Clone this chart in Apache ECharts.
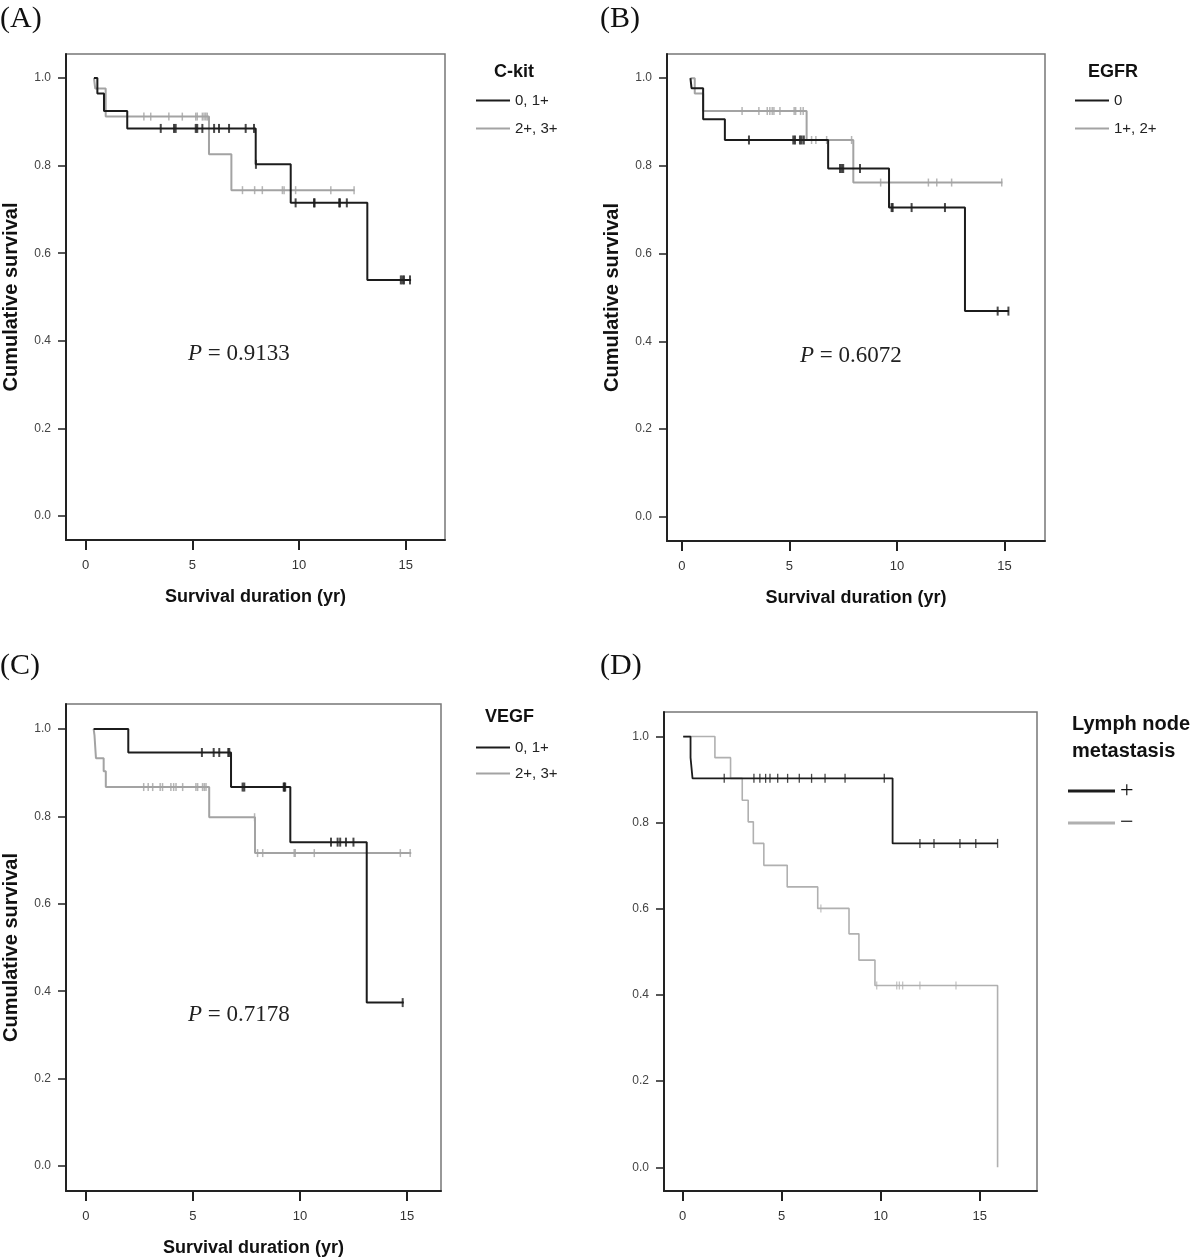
<!DOCTYPE html>
<html>
<head>
<meta charset="utf-8">
<script src="https://cdn.jsdelivr.net/npm/echarts@6/dist/echarts.min.js"></script>
<style>
html,body{margin:0;padding:0;background:#fff;}
#chart{width:1200px;height:1258px;}
</style>
</head>
<body>
<div id="chart"></div>
<script>
// ---------- DATA ----------
var xTicks = [0, 5, 10, 15];
var yTicks = [0, 0.2, 0.4, 0.6, 0.8, 1.0];

// (A) C-kit
var aBlackT = [0.39, 0.55, 0.86, 1.95, 7.97, 9.61, 13.2, 15.25];
var aBlackS = [1.0, 0.965, 0.925, 0.885, 0.803, 0.715, 0.539, 0.539];
var aBlackCens = [3.52, 4.14, 4.22, 5.16, 5.23, 5.47, 6.02, 6.25, 6.72, 7.5, 7.89, 7.98, 9.84, 10.7, 10.73, 11.88, 11.92, 12.24, 14.77, 14.85, 14.92, 15.2];
var aGrayT = [0.39, 0.45, 0.94, 5.78, 6.83, 12.6];
var aGrayS = [1.0, 0.976, 0.912, 0.826, 0.744, 0.744];
var aGrayCens = [2.73, 3.05, 3.9, 4.53, 5.16, 5.23, 5.47, 5.55, 5.63, 5.7, 7.35, 7.92, 8.28, 9.22, 9.3, 9.84, 11.49, 12.58];

// (B) EGFR
var bBlackT = [0.4, 0.45, 0.99, 2.0, 6.8, 9.63, 13.16, 15.2];
var bBlackS = [1.0, 0.977, 0.906, 0.859, 0.794, 0.705, 0.469, 0.469];
var bBlackCens = [3.12, 5.18, 5.26, 5.49, 5.57, 5.67, 7.35, 7.43, 7.5, 8.28, 9.75, 9.8, 10.68, 12.23, 14.68, 15.18];
var bGrayT = [0.4, 0.6, 0.99, 5.8, 7.97, 14.9];
var bGrayS = [1.0, 0.965, 0.925, 0.859, 0.762, 0.762];
var bGrayCens = [2.8, 3.58, 3.97, 4.09, 4.2, 4.28, 4.56, 5.22, 5.29, 5.52, 5.64, 6.03, 6.23, 6.73, 7.89, 9.24, 11.46, 11.85, 12.54, 14.87];

// (C) VEGF
var cBlackT = [0.36, 1.98, 6.78, 9.55, 13.12, 14.85];
var cBlackS = [1.0, 0.946, 0.867, 0.741, 0.374, 0.374];
var cBlackCens = [5.42, 5.97, 6.23, 6.65, 6.7, 7.32, 7.4, 9.24, 9.27, 9.31, 11.45, 11.76, 11.88, 12.15, 12.5, 14.8];
var cGrayT = [0.36, 0.4, 0.47, 0.83, 0.93, 5.76, 7.9, 15.2];
var cGrayS = [1.0, 0.986, 0.933, 0.903, 0.867, 0.798, 0.716, 0.716];
var cGrayCens = [2.7, 2.91, 3.12, 3.47, 3.58, 3.97, 4.1, 4.21, 4.52, 5.14, 5.22, 5.45, 5.53, 5.61, 7.88, 8.02, 8.26, 9.73, 9.78, 10.67, 14.69, 15.15];

// (D) Lymph node metastasis
var dPlusT = [0.03, 0.4, 0.5, 10.6, 15.9];
var dPlusS = [1.0, 0.951, 0.903, 0.752, 0.752];
var dPlusCens = [2.1, 3.6, 3.9, 4.19, 4.41, 4.8, 5.3, 5.89, 6.51, 7.19, 8.2, 10.18, 11.98, 12.69, 14.0, 14.8, 15.9];
var dMinusT = [0.03, 1.63, 2.42, 3.01, 3.31, 3.57, 4.1, 5.28, 6.82, 8.4, 8.9, 9.71, 15.9];
var dMinusS = [1.0, 0.951, 0.903, 0.852, 0.802, 0.752, 0.701, 0.651, 0.601, 0.542, 0.481, 0.422, 0.0];
var dMinusCens = [6.98, 9.8, 10.81, 10.94, 11.11, 11.98, 13.8];

var pValues = ['0.9133', '0.6072', '0.7178'];

// ---------- BUILD ----------
function pts(T, S) { return T.map(function (t, i) { return [t, S[i]]; }); }
function levelAt(T, S, t) { var s = S[0]; for (var i = 0; i < T.length; i++) { if (T[i] <= t) s = S[i]; } return s; }
function cens(T, S, C) { return C.map(function (t) { return [t, levelAt(T, S, t)]; }); }

var BLACK = '#1c1c1c', GRAY = '#a3a3a3', GRAY_D = '#b0b0b0';
var sansB = "'Liberation Sans', Arial, sans-serif";

var panels = [
  { grid: { left: 66, top: 54, width: 379, height: 486 }, x: [-0.92, 16.84], y: [-0.055, 1.055], names: true,
    curves: [
      { name: 'A|2+, 3+', T: aGrayT, S: aGrayS, C: aGrayCens, color: GRAY, w: 2, tick: [1.5, 8] },
      { name: 'A|0, 1+', T: aBlackT, S: aBlackS, C: aBlackCens, color: BLACK, w: 2, tick: [2, 9] }
    ] },
  { grid: { left: 667, top: 54, width: 378, height: 487 }, x: [-0.69, 16.88], y: [-0.055, 1.055], names: true,
    curves: [
      { name: 'B|1+, 2+', T: bGrayT, S: bGrayS, C: bGrayCens, color: GRAY, w: 2, tick: [1.5, 8] },
      { name: 'B|0', T: bBlackT, S: bBlackS, C: bBlackCens, color: BLACK, w: 2, tick: [2, 9] }
    ] },
  { grid: { left: 66, top: 704, width: 375, height: 488 }, x: [-0.93, 16.59], y: [-0.057, 1.057], names: true,
    curves: [
      { name: 'C|2+, 3+', T: cGrayT, S: cGrayS, C: cGrayCens, color: GRAY, w: 2, tick: [1.5, 8] },
      { name: 'C|0, 1+', T: cBlackT, S: cBlackS, C: cBlackCens, color: BLACK, w: 2, tick: [2, 9] }
    ] },
  { grid: { left: 664, top: 712, width: 373, height: 479 }, x: [-0.94, 17.89], y: [-0.055, 1.057], names: false,
    curves: [
      { name: 'D|\u2212', T: dMinusT, S: dMinusS, C: dMinusCens, color: GRAY_D, w: 1.6, tick: [1.2, 8] },
      { name: 'D|+', T: dPlusT, S: dPlusS, C: dPlusCens, color: BLACK, w: 1.8, tick: [1.3, 9] }
    ] }
];

var grids = [], xAxes = [], yAxes = [], series = [];
panels.forEach(function (p, i) {
  var g = Object.assign({ show: true, borderColor: '#777', borderWidth: 1.5, backgroundColor: 'transparent', containLabel: false }, p.grid);
  grids.push(g);
  xAxes.push({
    type: 'value', gridIndex: i, min: p.x[0], max: p.x[1],
    name: p.names ? 'Survival duration (yr)' : '', nameLocation: 'middle', nameGap: 48,
    nameTextStyle: { fontFamily: sansB, fontWeight: 'bold', fontSize: 18, color: '#111' },
    axisLine: { show: true, onZero: false, lineStyle: { color: '#222', width: 2 } },
    axisTick: { show: true, inside: false, length: 10, customValues: xTicks, lineStyle: { color: '#222', width: 2 } },
    axisLabel: { show: true, customValues: xTicks, margin: 19, fontSize: 13, color: '#333', fontFamily: sansB },
    splitLine: { show: false }
  });
  yAxes.push({
    type: 'value', gridIndex: i, min: p.y[0], max: p.y[1],
    name: p.names ? 'Cumulative survival' : '', nameLocation: 'middle', nameGap: 45, nameRotate: 90,
    nameTextStyle: { fontFamily: sansB, fontWeight: 'bold', fontSize: 20, color: '#111' },
    axisLine: { show: true, onZero: false, lineStyle: { color: '#222', width: 2 } },
    axisTick: { show: true, inside: false, length: 8, customValues: yTicks, lineStyle: { color: '#222', width: 1.5 } },
    axisLabel: { show: true, customValues: yTicks, margin: 15, fontSize: 12, color: '#444', fontFamily: sansB,
      formatter: function (v) { return (+v).toFixed(1); } },
    splitLine: { show: false }
  });
  p.curves.forEach(function (c) {
    series.push({
      type: 'line', name: c.name, xAxisIndex: i, yAxisIndex: i, step: 'end', showSymbol: false, symbol: 'none',
      data: pts(c.T, c.S), lineStyle: { color: c.color, width: c.w }, itemStyle: { color: c.color },
      animation: false, silent: true
    });
    series.push({
      type: 'scatter', name: c.name + ' censored', xAxisIndex: i, yAxisIndex: i, symbol: 'rect', symbolSize: c.tick,
      data: cens(c.T, c.S, c.C), itemStyle: { color: c.color }, animation: false, silent: true
    });
  });
});

function legendFor(data, left, top, w, h, gap, ts) {
  return {
    data: data, left: left, top: top, orient: 'vertical', icon: 'rect', itemWidth: w, itemHeight: h, itemGap: gap,
    selectedMode: false, padding: 0, textStyle: ts,
    formatter: function (n) { return n.split('|')[1]; }
  };
}
var legTS = { fontSize: 15, color: '#222', fontFamily: sansB, lineHeight: 14 };
var legends = [
  legendFor(['A|0, 1+', 'A|2+, 3+'], 476, 93, 34, 2, 13, legTS),
  legendFor(['B|0', 'B|1+, 2+'], 1075, 93, 34, 2, 13, legTS),
  legendFor(['C|0, 1+', 'C|2+, 3+'], 476, 740, 34, 2, 11, legTS),
  legendFor(['D|+', 'D|\u2212'], 1068, 779, 47, 3, 8, { fontSize: 24, color: '#111', fontFamily: 'Liberation Serif, Times New Roman, serif', lineHeight: 24 })
];

var serif = "'Liberation Serif', 'Times New Roman', serif";
function txt(text, x, y, font) {
  return { type: 'text', x: x, y: y, style: { text: text, font: font, fill: '#111', textVerticalAlign: 'middle' } };
}
function pText(v, x, y) {
  return { type: 'text', x: x, y: y, style: { text: '{i|P} = ' + v, font: '23px ' + serif, fill: '#222', textVerticalAlign: 'middle',
    rich: { i: { fontStyle: 'italic', fontFamily: serif, fontSize: 23 } } } };
}
var graphics = [
  txt('(A)', 0, 19, '30px ' + serif),
  txt('(B)', 600, 19, '30px ' + serif),
  txt('(C)', 0, 666, '30px ' + serif),
  txt('(D)', 600, 666, '30px ' + serif),
  txt('C-kit', 494, 72, 'bold 18px ' + sansB),
  txt('EGFR', 1088, 72, 'bold 18px ' + sansB),
  txt('VEGF', 485, 717, 'bold 18px ' + sansB),
  txt('Lymph node', 1072, 724, 'bold 20px ' + sansB),
  txt('metastasis', 1072, 751, 'bold 20px ' + sansB),
  pText(pValues[0], 188, 354),
  pText(pValues[1], 800, 356),
  pText(pValues[2], 188, 1015)
];

var chart = echarts.init(document.getElementById('chart'), null, { renderer: 'canvas' });
chart.setOption({
  animation: false,
  backgroundColor: '#fff',
  grid: grids, xAxis: xAxes, yAxis: yAxes, series: series,
  legend: legends,
  graphic: { elements: graphics }
});
</script>
</body>
</html>
